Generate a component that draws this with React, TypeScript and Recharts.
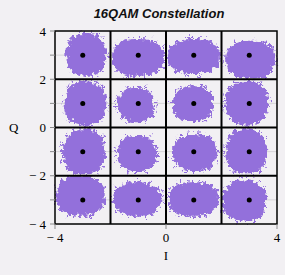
import { ReferenceArea, ReferenceLine, Scatter, ScatterChart, XAxis, YAxis } from "recharts";

// ideal 16QAM symbol positions
const symbolI = [-3, -1, 1, 3, -3, -1, 1, 3, -3, -1, 1, 3, -3, -1, 1, 3];
const symbolQ = [3, 3, 3, 3, 1, 1, 1, 1, -1, -1, -1, -1, -3, -3, -3, -3];

// extent of each received-sample cloud
const cloudIMin = [-3.59, -1.94, 0.07, 2.17, -3.65, -1.73, 0.25, 2.15, -3.71, -1.73, 0.25, 2.17, -3.95, -1.91, 0.07, 2.05];
const cloudIMax = [-2.15, -0.08, 1.94, 3.92, -2.15, -0.41, 1.69, 3.68, -2.21, -0.35, 1.81, 3.61, -2.21, -0.17, 1.87, 3.61];
const cloudQMin = [2.15, 2.15, 2.22, 2.04, 0.12, 0.26, 0.26, 0.12, -1.94, -1.8, -1.8, -1.94, -3.66, -3.66, -3.66, -3.86];
const cloudQMax = [3.88, 3.67, 3.67, 3.6, 1.91, 1.64, 1.71, 1.91, -0.07, -0.35, -0.28, -0.07, -2.0, -2.27, -2.27, -2.2];

const decisionBounds = [-2, 0, 2];
const minorLevels = [-3, -1, 1, 3];
const xTicks = [-4, 0, 4];
const yTicks = [-4, -3, -2, -1, 0, 1, 2, 3, 4];

const symbols = symbolI.map((i, k) => ({ i, q: symbolQ[k] }));

const PURPLE = "#9370DB";

const fmt = (v: number) => (v < 0 ? `\u2212 ${-v}` : String(v));

function CloudShape(props: any) {
  const x = Math.min(props.x, props.x + props.width);
  const y = Math.min(props.y, props.y + props.height);
  const w = Math.abs(props.width);
  const h = Math.abs(props.height);
  return (
    <g filter="url(#rough)">
      <rect x={x - 3} y={y - 3} width={w + 6} height={h + 6} rx={(w + 6) * 0.46} ry={(h + 6) * 0.46} fill="url(#plusMarks)" />
      <rect x={x} y={y} width={w} height={h} rx={w * 0.44} ry={h * 0.44} fill={PURPLE} />
    </g>
  );
}

// thin grey grid line drawn in the reference-area layer so it sits under the clouds
function MinorLine(props: any) {
  const cy = props.y + props.height / 2;
  return <line x1={props.x} x2={props.x + props.width} y1={cy} y2={cy} stroke="#d6d4d7" strokeWidth={1} />;
}

function SymbolDot(props: any) {
  return <circle cx={props.cx} cy={props.cy} r={2.5} fill="#000" />;
}

const tickStyle = { fill: "#000", fontSize: 13, fontFamily: "Liberation Serif" };

export default function App() {
  return (
    <div
      style={{
        position: "absolute",
        left: 0,
        top: 0,
        width: 285,
        height: 275,
        background: "#f2f0f3",
      }}
    >
      <div
        style={{
          position: "absolute",
          left: 59,
          width: 200,
          top: 7,
          textAlign: "center",
          fontFamily: "Liberation Sans",
          fontWeight: "bold",
          fontStyle: "italic",
          fontSize: 13,
          lineHeight: "13px",
          color: "#111",
          whiteSpace: "nowrap",
        }}
      >
        16QAM Constellation
      </div>
      <ScatterChart width={285} height={275} margin={{ top: 31, right: 8, bottom: 0, left: 0 }}>
        <defs>
          <pattern id="plusMarks" width="6" height="5" patternUnits="userSpaceOnUse">
            <path d="M0 1.5h3M1.5 0v3" stroke={PURPLE} strokeWidth="1" />
          </pattern>
          <filter id="rough" x="-20%" y="-20%" width="140%" height="140%">
            <feTurbulence type="fractalNoise" baseFrequency="0.25" numOctaves="2" seed="3" result="n" />
            <feDisplacementMap in="SourceGraphic" in2="n" scale="8" xChannelSelector="R" yChannelSelector="G" />
          </filter>
        </defs>
        <XAxis
          type="number"
          dataKey="i"
          domain={[-4, 4]}
          ticks={xTicks}
          tickFormatter={fmt}
          height={51}
          tickSize={5}
          tickMargin={4}
          axisLine={false}
          tickLine={{ stroke: "#8a8a8a" }}
          tick={tickStyle}
          allowDataOverflow
          label={{ value: "I", position: "insideBottom", offset: 15, fill: "#000", fontSize: 13, fontFamily: "Liberation Serif" }}
        />
        <YAxis
          type="number"
          dataKey="q"
          domain={[-4, 4]}
          ticks={yTicks}
          interval={0}
          tickFormatter={(v: number) => (v % 2 === 0 ? fmt(v) : "")}
          width={55}
          tickSize={5}
          tickMargin={4}
          axisLine={false}
          tickLine={{ stroke: "#8a8a8a" }}
          tick={tickStyle}
          allowDataOverflow
          label={{ value: "Q", position: "insideLeft", offset: 9, angle: 0, fill: "#000", fontSize: 13, fontFamily: "Liberation Serif" }}
        />
        {minorLevels.map((v) => (
          <ReferenceArea key={`m${v}`} x1={-4} x2={4} y1={v - 0.02} y2={v + 0.02} shape={MinorLine} />
        ))}
        {symbolI.map((_, k) => (
          <ReferenceArea
            key={`c${k}`}
            x1={cloudIMin[k]}
            x2={cloudIMax[k]}
            y1={cloudQMin[k]}
            y2={cloudQMax[k]}
            ifOverflow="visible"
            shape={CloudShape}
          />
        ))}
        {decisionBounds.map((v) => (
          <ReferenceLine key={`vx${v}`} x={v} stroke="#000" strokeWidth={2} />
        ))}
        {decisionBounds.map((v) => (
          <ReferenceLine key={`hy${v}`} y={v} stroke="#000" strokeWidth={2} />
        ))}
        <ReferenceArea x1={-4} x2={4} y1={-4} y2={4} fill="none" fillOpacity={0} stroke="#000" strokeWidth={1.5} strokeOpacity={1} />
        <Scatter data={symbols} dataKey="q" isAnimationActive={false} shape={SymbolDot} />
      </ScatterChart>
    </div>
  );
}
